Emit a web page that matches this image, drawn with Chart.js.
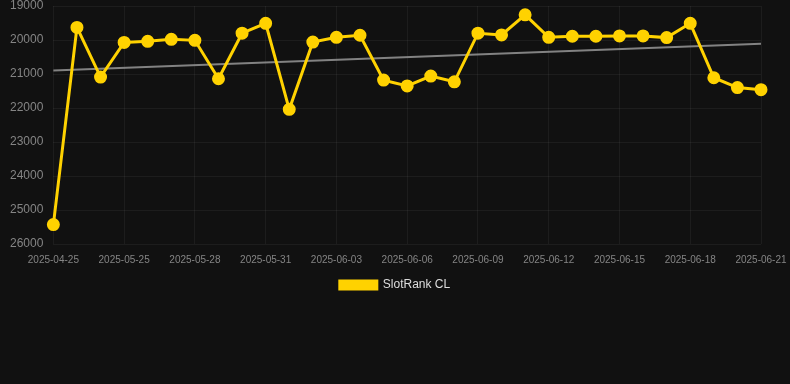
<!DOCTYPE html>
<html>
<head>
<meta charset="utf-8">
<script src="https://cdn.jsdelivr.net/npm/chart.js@4.4.1/dist/chart.umd.min.js"></script>
<style>
  html, body { margin: 0; padding: 0; background: #111111; }
  #wrap { position: relative; width: 790px; height: 301px; }
</style>
</head>
<body>
<div id="wrap"><canvas id="chart"></canvas></div>
<script>
const dates = [
    '2025-04-25', '2025-05-23', '2025-05-24', '2025-05-25', '2025-05-26', '2025-05-27',
    '2025-05-28', '2025-05-29', '2025-05-30', '2025-05-31', '2025-06-01', '2025-06-02',
    '2025-06-03', '2025-06-04', '2025-06-05', '2025-06-06', '2025-06-07', '2025-06-08',
    '2025-06-09', '2025-06-10', '2025-06-11', '2025-06-12', '2025-06-13', '2025-06-14',
    '2025-06-15', '2025-06-16', '2025-06-17', '2025-06-18', '2025-06-19', '2025-06-20',
    '2025-06-21'
];
const rankValues = [
    25430, 19630, 21090, 20070, 20040, 19980,
    20010, 21140, 19800, 19510, 22040, 20060,
    19920, 19860, 21180, 21350, 21060, 21230,
    19800, 19850, 19260, 19920, 19890, 19890,
    19880, 19880, 19930, 19510, 21110, 21400,
    21460
];
const trendStart = 20900;
const trendEnd = 20110;
const yTicks = [19000, 20000, 21000, 22000, 23000, 24000, 25000, 26000];

const trendValues = dates.map((d, i) => i === 0 ? trendStart : (i === dates.length - 1 ? trendEnd : null));

new Chart(document.getElementById('chart'), {
    type: 'line',
    data: {
        labels: dates,
        datasets: [{
            label: 'SlotRank CL',
            data: rankValues,
            borderColor: '#FFD200',
            backgroundColor: '#FFD200',
            borderWidth: 3,
            pointRadius: 5,
            pointHoverRadius: 6,
            tension: 0
        }, {
            label: 'Trend',
            data: trendValues,
            spanGaps: true,
            borderColor: 'rgba(150, 150, 150, 0.85)',
            borderWidth: 2,
            pointRadius: 0,
            fill: false
        }]
    },
    options: {
        responsive: true,
        maintainAspectRatio: false,
        animation: false,
        layout: { autoPadding: false, padding: 0 },
        plugins: {
            legend: {
                position: 'bottom',
                labels: {
                    color: '#dddddd',
                    font: { family: 'Arial, "Liberation Sans", sans-serif', size: 12 },
                    boxWidth: 37,
                    boxHeight: 8,
                    filter: item => item.text !== 'Trend'
                }
            },
            tooltip: { enabled: false }
        },
        scales: {
            x: {
                grid: { color: 'rgba(255, 255, 255, 0.05)', drawTicks: false },
                border: { display: false },
                ticks: {
                    color: '#858585',
                    font: { family: 'Arial, "Liberation Sans", sans-serif', size: 10 },
                    maxRotation: 0,
                    autoSkip: true,
                    padding: 10
                },
                afterFit: s => { s.height = 25; s.paddingRight = 29; }
            },
            y: {
                reverse: true,
                min: yTicks[0],
                max: yTicks[yTicks.length - 1],
                afterBuildTicks: scale => { scale.ticks = yTicks.map(v => ({ value: v })); },
                grid: { color: 'rgba(255, 255, 255, 0.05)', drawTicks: false },
                border: { display: false },
                ticks: {
                    color: '#858585',
                    font: { family: 'Arial, "Liberation Sans", sans-serif', size: 12 },
                    padding: 10,
                    callback: v => String(v)
                },
                afterFit: s => { s.paddingTop = 6; s.paddingBottom = 6; }
            }
        }
    }
});
</script>
</body>
</html>
